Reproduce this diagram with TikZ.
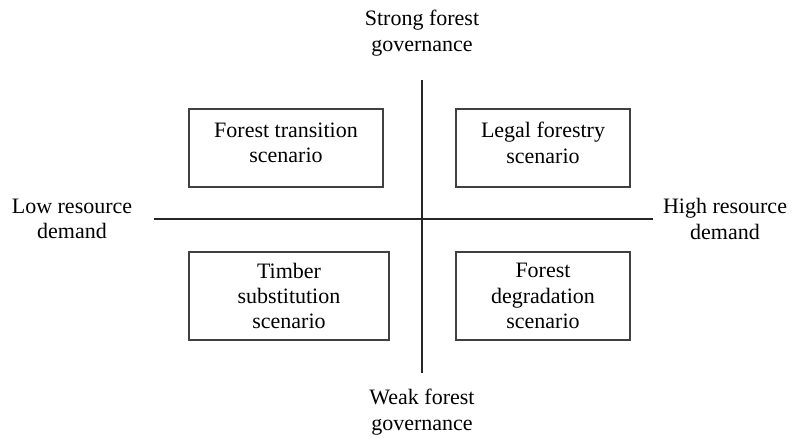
\documentclass[tikz,border=0pt]{standalone}
\usepackage{fontspec}
\setmainfont{Liberation Serif}
\usetikzlibrary{positioning}

\begin{document}
\begin{tikzpicture}[x=0.75pt,y=-0.75pt,
    scenario/.style={draw=black!75,line width=0.8pt,align=center,
      font=\fontsize{16.5}{19}\selectfont,inner sep=0pt},
    axislabel/.style={align=center,font=\fontsize{16.5}{19}\selectfont,inner sep=0pt},
    axis/.style={line width=1.1pt,black!85}]
  \useasboundingbox (0,0) rectangle (802,437);
  % quadrant boxes
  \node[scenario,minimum width=145.5pt,minimum height=58.5pt] (transition) at (286,148) {Forest transition\\scenario\\[-17pt]\strut};
  \node[scenario,minimum width=130.5pt,minimum height=58.5pt] (legal) at (543,148) {Legal forestry\\scenario\\[-17pt]\strut};
  \node[scenario,minimum width=150pt,minimum height=66pt] (timber) at (289,296) {Timber\\substitution\\scenario};
  \node[scenario,minimum width=130.5pt,minimum height=66pt] (degradation) at (543,296) {Forest\\degradation\\scenario};
  % axes
  \coordinate (top) at (422,80);
  \coordinate (bottom) at (422,373);
  \coordinate (left) at (154,219);
  \coordinate (right) at (653,219);
  \draw[axis] (top) -- (bottom);
  \draw[axis] (left) -- (right);
  % axis labels
  \node[axislabel] (strong) at (422,33) {Strong forest\\governance};
  \node[axislabel] (weak) at (422,412) {Weak forest\\governance};
  \node[axislabel] (low) at (72,219) {Low resource\\demand};
  \node[axislabel] (high) at (725,219) {High resource\\demand};
\end{tikzpicture}
\end{document}
